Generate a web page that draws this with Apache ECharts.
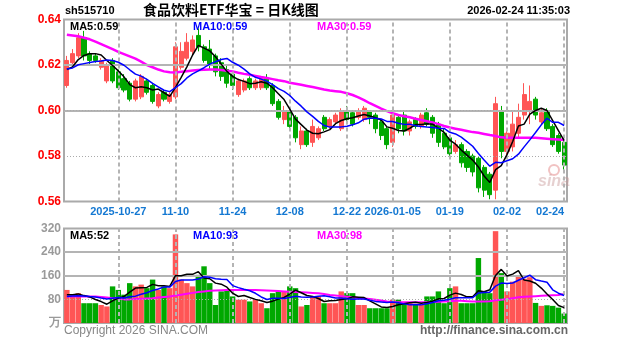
<!DOCTYPE html>
<html>
<head>
<meta charset="utf-8">
<script src="https://cdn.jsdelivr.net/npm/echarts@6/dist/echarts.min.js"></script>
<style>
html,body{margin:0;padding:0;background:#fff;}
#chart{width:627px;height:342px;}
</style>
</head>
<body>
<div id="chart"></div>
<script>
// 食品饮料ETF华宝 (sh515710) daily candles, 2025-10-14 .. 2026-02-24
const dates = [
  '2025-10-14','2025-10-15','2025-10-16','2025-10-17','2025-10-20','2025-10-21','2025-10-22','2025-10-23','2025-10-24',
  '2025-10-27','2025-10-28','2025-10-29','2025-10-30','2025-10-31',
  '2025-11-03','2025-11-04','2025-11-05','2025-11-06','2025-11-07',
  '2025-11-10','2025-11-11','2025-11-12','2025-11-13','2025-11-14',
  '2025-11-17','2025-11-18','2025-11-19','2025-11-20','2025-11-21',
  '2025-11-24','2025-11-25','2025-11-26','2025-11-27','2025-11-28',
  '2025-12-01','2025-12-02','2025-12-03','2025-12-04','2025-12-05',
  '2025-12-08','2025-12-09','2025-12-10','2025-12-11','2025-12-12',
  '2025-12-15','2025-12-16','2025-12-17','2025-12-18','2025-12-19',
  '2025-12-22','2025-12-23','2025-12-24','2025-12-25','2025-12-26',
  '2025-12-29','2025-12-30','2025-12-31',
  '2026-01-05','2026-01-06','2026-01-07','2026-01-08','2026-01-09',
  '2026-01-12','2026-01-13','2026-01-14','2026-01-15','2026-01-16',
  '2026-01-19','2026-01-20','2026-01-21','2026-01-22','2026-01-23',
  '2026-01-26','2026-01-27','2026-01-28','2026-01-29','2026-01-30',
  '2026-02-02','2026-02-03','2026-02-04','2026-02-05','2026-02-06',
  '2026-02-09','2026-02-10','2026-02-11','2026-02-12','2026-02-13',
  '2026-02-24'
];

const opens = [
  0.611,0.621,0.624,0.632,0.625,0.624,0.619,0.613,0.622,
  0.617,0.614,0.612,0.605,0.606,
  0.613,0.611,0.602,0.608,0.604,
  0.606,0.619,0.623,0.626,0.633,
  0.628,0.627,0.624,0.621,0.618,
  0.616,0.607,0.609,0.614,0.610,
  0.610,0.614,0.611,0.604,0.596,
  0.600,0.597,0.585,0.591,0.586,
  0.588,0.597,0.593,0.595,0.592,
  0.600,0.599,0.597,0.596,0.600,
  0.598,0.595,0.592,
  0.586,0.597,0.598,0.591,0.596,
  0.593,0.599,0.597,0.594,0.590,
  0.588,0.582,0.585,0.582,0.580,
  0.579,0.575,0.572,0.565,0.600,
  0.582,0.584,0.590,0.598,0.600,
  0.605,0.595,0.600,0.593,0.589,
  0.586
];
const closes = [
  0.622,0.625,0.632,0.624,0.622,0.622,0.622,0.620,0.613,
  0.610,0.609,0.605,0.613,0.615,
  0.608,0.604,0.607,0.605,0.607,
  0.628,0.626,0.630,0.631,0.628,
  0.622,0.620,0.617,0.615,0.612,
  0.611,0.613,0.613,0.610,0.613,
  0.614,0.610,0.603,0.597,0.600,
  0.593,0.588,0.591,0.585,0.593,
  0.592,0.592,0.596,0.598,0.600,
  0.596,0.594,0.600,0.601,0.597,
  0.592,0.589,0.585,
  0.598,0.592,0.591,0.595,0.593,
  0.598,0.594,0.590,0.586,0.584,
  0.581,0.585,0.577,0.575,0.573,
  0.566,0.565,0.563,0.603,0.582,
  0.590,0.594,0.597,0.607,0.604,
  0.598,0.599,0.592,0.585,0.582,
  0.576
];
const lows = [
  0.610,0.620,0.623,0.622,0.620,0.621,0.618,0.612,0.612,
  0.609,0.608,0.604,0.604,0.605,
  0.607,0.603,0.601,0.604,0.603,
  0.605,0.618,0.622,0.624,0.626,
  0.621,0.618,0.615,0.613,0.610,
  0.609,0.606,0.608,0.609,0.609,
  0.609,0.609,0.602,0.596,0.594,
  0.591,0.586,0.583,0.584,0.584,
  0.587,0.591,0.592,0.594,0.591,
  0.594,0.593,0.596,0.595,0.594,
  0.590,0.587,0.583,
  0.584,0.590,0.589,0.589,0.592,
  0.592,0.593,0.588,0.584,0.583,
  0.580,0.581,0.575,0.573,0.571,
  0.564,0.562,0.561,0.561,0.579,
  0.580,0.582,0.588,0.596,0.594,
  0.596,0.594,0.591,0.584,0.581,
  0.574
];
const highs = [
  0.624,0.627,0.634,0.635,0.626,0.625,0.623,0.621,0.623,
  0.618,0.616,0.613,0.614,0.616,
  0.614,0.612,0.608,0.609,0.608,
  0.630,0.630,0.634,0.633,0.636,
  0.629,0.631,0.625,0.623,0.620,
  0.617,0.614,0.614,0.615,0.614,
  0.615,0.616,0.612,0.605,0.602,
  0.601,0.598,0.593,0.592,0.596,
  0.593,0.598,0.597,0.599,0.601,
  0.602,0.600,0.601,0.602,0.600,
  0.599,0.596,0.593,
  0.599,0.598,0.600,0.596,0.597,
  0.599,0.601,0.598,0.595,0.592,
  0.589,0.587,0.586,0.583,0.581,
  0.580,0.576,0.573,0.606,0.602,
  0.592,0.600,0.603,0.612,0.611,
  0.606,0.601,0.601,0.594,0.590,
  0.589
];
// closes of the nine sessions before the first candle (feed the opening MA5 / MA10 points)
const priorCloses = [0.620,0.618,0.619,0.617,0.618,0.619,0.616,0.615,0.618];

// turnover, 万手
const volumes = [
  112,95,101,67,67,67,61,56,124,
  112,96,135,124,130,
  118,147,112,124,118,
  300,147,135,124,163,
  192,135,61,107,112,
  90,79,79,73,79,
  67,50,101,107,107,
  124,118,56,61,90,
  90,67,67,67,107,
  101,101,61,61,50,
  50,50,50,
  79,79,67,67,61,
  61,90,90,107,67,
  118,124,67,67,67,
  220,107,101,311,169,
  107,140,160,150,155,
  68,58,60,58,52,
  32
];
const priorVolumes = [80,90,78,88,84,95,88,96,89];

// 30-day averages (their windows start before the plotted range)
const ma30Price = [
  0.6333,0.6330,0.6326,0.6320,0.6313,0.6303,0.6292,0.6281,0.6270,
  0.6258,0.6248,0.6238,0.6228,0.6215,
  0.6200,0.6190,0.6180,0.6172,0.6168,
  0.6167,0.6170,0.6173,0.6176,0.6178,
  0.6179,0.6180,0.6180,0.6178,0.6175,
  0.6172,0.6166,0.6161,0.6157,0.6152,
  0.6147,0.6143,0.6138,0.6133,0.6129,
  0.6122,0.6118,0.6113,0.6108,0.6103,
  0.6098,0.6092,0.6088,0.6085,0.6082,
  0.6076,0.6068,0.6058,0.6046,0.6032,
  0.6020,0.6008,0.5997,
  0.5988,0.5980,0.5975,0.5970,0.5964,
  0.5958,0.5953,0.5947,0.5940,0.5932,
  0.5925,0.5920,0.5915,0.5910,0.5905,
  0.5902,0.5897,0.5892,0.5888,0.5882,
  0.5880,0.5880,0.5880,0.5880,0.5880,
  0.5880,0.5878,0.5876,0.5874,0.5872,
  0.5870
];
const ma30Volume = [
  90,90,90,90,90,90,88,86,84,
  82,80,80,81,82,
  83,84,86,88,90,
  93,96,99,102,105,
  107,109,110,111,112,
  112,112,112,112,112,
  111,110,109,108,107,
  106,105,104,103,102,
  101,98,95,93,91,
  89,87,85,83,81,
  79,76,73,
  71,70,70,70,70,
  70,70,71,72,73,
  74,75,75,74,73,
  73,73,74,77,79,
  81,84,87,89,90,
  91,92,93,94,95,
  98
];

// axis ticks
const priceTicks = [0.56, 0.58, 0.60, 0.62, 0.64];
const volumeTicks = [0, 80, 160, 240, 320];
const labelDays = [9, 19, 29, 39, 49, 57, 67, 77, 87];
const fullDateDays = [9, 57];

const UP = '#ff5555', DOWN = '#00a800';
const GRID_GRAY = '#b4b4b4';

function movingAverage(values, prior, n) {
  const all = prior.concat(values);
  return values.map((_, i) => {
    const end = prior.length + i;
    let s = 0;
    for (let k = end - n + 1; k <= end; k++) s += all[k];
    return s / n;
  });
}

const ma5Price = movingAverage(closes, priorCloses, 5);
const ma10Price = movingAverage(closes, priorCloses, 10);
const ma5Volume = movingAverage(volumes, priorVolumes, 5);
const ma10Volume = movingAverage(volumes, priorVolumes, 10);

const candles = dates.map((_, i) => [opens[i], closes[i], lows[i], highs[i]]);
const volumeBars = volumes.map((v, i) => ({
  value: v,
  itemStyle: { color: closes[i] >= opens[i] ? UP : DOWN }
}));

const last = dates.length - 1;
const fmtP = v => v.toFixed(2);
const fmtV = v => String(Math.round(v));

const vLines = labelDays.map(i => ({ xAxis: dates[i] }));

const chart = echarts.init(document.getElementById('chart'), null, { renderer: 'canvas' });

const txt = (x, y, text, fill, size, extra) => Object.assign({
  type: 'text', x: x, y: y, silent: true,
  style: Object.assign({
    text: text, fill: fill,
    font: 'bold ' + size + 'px "Liberation Sans", Arial, sans-serif'
  }, extra || {})
});

chart.setOption({
  animation: false,
  backgroundColor: '#fff',
  grid: [
    { left: 64, right: 60, top: 19.5, height: 182, show: true, borderColor: '#aaa', borderWidth: 2, backgroundColor: 'transparent' },
    { left: 64, right: 60, top: 228.5, height: 94.5, show: true, borderColor: '#aaa', borderWidth: 2, backgroundColor: 'transparent' }
  ],
  xAxis: [
    {
      type: 'category', gridIndex: 0, data: dates, boundaryGap: true,
      axisLine: { show: false }, axisTick: { show: false }, splitLine: { show: false },
      axisLabel: {
        show: true, margin: 5, color: '#1478d2',
        fontFamily: '"Liberation Sans", Arial, sans-serif', fontWeight: 'bold', fontSize: 11,
        interval: (idx) => labelDays.indexOf(idx) >= 0,
        formatter: (val, idx) => fullDateDays.indexOf(idx) >= 0 ? val : val.slice(5),
        alignMaxLabel: 'right', hideOverlap: false
      }
    },
    {
      type: 'category', gridIndex: 1, data: dates, boundaryGap: true,
      axisLine: { show: false }, axisTick: { show: false }, splitLine: { show: false },
      axisLabel: { show: false }
    }
  ],
  yAxis: [
    {
      type: 'value', gridIndex: 0, min: priceTicks[0], max: priceTicks[priceTicks.length - 1], interval: 0.02,
      axisLine: { show: false }, axisTick: { show: false }, splitLine: { show: false },
      axisLabel: {
        margin: 3, color: '#ff0000', fontSize: 12, fontWeight: 'bold',
        fontFamily: '"Liberation Sans", Arial, sans-serif',
        formatter: v => fmtP(v)
      }
    },
    {
      type: 'value', gridIndex: 1, min: volumeTicks[0], max: volumeTicks[volumeTicks.length - 1], interval: 80,
      axisLine: { show: false }, axisTick: { show: false }, splitLine: { show: false },
      axisLabel: {
        margin: 3, color: '#9a9a9a', fontSize: 12, fontWeight: 'bold',
        fontFamily: '"Liberation Sans", Arial, sans-serif',
        formatter: v => v === 0 ? '万' : String(v)
      }
    }
  ],
  series: [
    {
      name: 'K', type: 'candlestick', xAxisIndex: 0, yAxisIndex: 0,
      data: candles, barWidth: '80%',
      itemStyle: { color: UP, color0: DOWN, borderColor: UP, borderColor0: DOWN, borderWidth: 1 },
      markLine: {
        silent: true, symbol: 'none', label: { show: false }, animation: false,
        data: [
          ...vLines.map(d => Object.assign({ lineStyle: { type: [4, 3], color: GRID_GRAY, width: 2 } }, d)),
          { yAxis: 0.62, lineStyle: { type: 'solid', color: GRID_GRAY, width: 2 } },
          { yAxis: 0.60, lineStyle: { type: 'solid', color: GRID_GRAY, width: 2 } },
          { yAxis: 0.599, lineStyle: { type: [1, 2], color: '#aaa', width: 1 } },
          { yAxis: 0.58, lineStyle: { type: [1, 2], color: '#aaa', width: 1 } }
        ]
      },
      z: 3
    },
    { name: 'MA5', type: 'line', xAxisIndex: 0, yAxisIndex: 0, data: ma5Price, symbol: 'none', lineStyle: { color: '#000', width: 1.5 }, z: 5 },
    { name: 'MA10', type: 'line', xAxisIndex: 0, yAxisIndex: 0, data: ma10Price, symbol: 'none', lineStyle: { color: '#0000ff', width: 1.5 }, z: 5 },
    { name: 'MA30', type: 'line', xAxisIndex: 0, yAxisIndex: 0, data: ma30Price, symbol: 'none', lineStyle: { color: '#ff00ff', width: 2.5 }, z: 4 },
    {
      name: 'VOL', type: 'bar', xAxisIndex: 1, yAxisIndex: 1, data: volumeBars, barWidth: '95%',
      markLine: {
        silent: true, symbol: 'none', label: { show: false }, animation: false,
        data: [
          ...vLines.map(d => Object.assign({ lineStyle: { type: [4, 3], color: GRID_GRAY, width: 2 } }, d)),
          { yAxis: 240, lineStyle: { type: 'solid', color: GRID_GRAY, width: 2 } },
          { yAxis: 160, lineStyle: { type: 'solid', color: GRID_GRAY, width: 2 } },
          { yAxis: 80, lineStyle: { type: [1, 2], color: '#aaa', width: 1 } }
        ]
      },
      z: 3
    },
    { name: 'VMA5', type: 'line', xAxisIndex: 1, yAxisIndex: 1, data: ma5Volume, symbol: 'none', lineStyle: { color: '#000', width: 1.5 }, z: 5 },
    { name: 'VMA10', type: 'line', xAxisIndex: 1, yAxisIndex: 1, data: ma10Volume, symbol: 'none', lineStyle: { color: '#0000ff', width: 1.5 }, z: 5 },
    { name: 'VMA30', type: 'line', xAxisIndex: 1, yAxisIndex: 1, data: ma30Volume, symbol: 'none', lineStyle: { color: '#ff00ff', width: 2 }, z: 4 }
  ],
  graphic: [
    txt(65, 5, 'sh515710', '#000', 11),
    {
      type: 'text', x: 143, y: 3, silent: true,
      style: { text: '食品饮料ETF华宝 = 日K线图', fill: '#000', font: 'bold 14px "Noto Sans CJK SC", sans-serif' }
    },
    txt(570, 5, '2026-02-24 11:35:03', '#000', 11, { align: 'right' }),
    txt(70, 21, 'MA5:' + fmtP(ma5Price[last]), '#000', 11),
    txt(193, 21, 'MA10:' + fmtP(ma10Price[last]), '#0000ff', 11),
    txt(317, 21, 'MA30:' + fmtP(ma30Price[last]), '#ff00ff', 11),
    txt(70, 230, 'MA5:' + fmtV(ma5Volume[last]), '#000', 11),
    txt(193, 230, 'MA10:' + fmtV(ma10Volume[last]), '#0000ff', 11),
    txt(317, 230, 'MA30:' + fmtV(ma30Volume[last]), '#ff00ff', 11),
    {
      type: 'text', x: 64, y: 325, silent: true,
      style: { text: 'Copyright 2026 SINA.COM', fill: '#888', font: '12px "Liberation Sans", Arial, sans-serif' }
    },
    {
      type: 'text', x: 568, y: 325, silent: true,
      style: { text: 'http://finance.sina.com.cn', fill: '#666', align: 'right', font: 'bold 12px "Liberation Sans", Arial, sans-serif' }
    },
    // sina watermark in the lower right of the price panel
    {
      type: 'group', x: 538, y: 164, silent: true,
      children: [
        { type: 'circle', shape: { cx: 16, cy: 6, r: 5 }, style: { fill: 'none', stroke: 'rgba(225,120,120,0.45)', lineWidth: 2 } },
        { type: 'text', x: 0, y: 10, style: { text: 'sina', fill: 'rgba(200,150,150,0.45)', font: 'italic bold 16px "Liberation Sans", Arial, sans-serif' } }
      ]
    }
  ]
});
</script>
</body>
</html>
